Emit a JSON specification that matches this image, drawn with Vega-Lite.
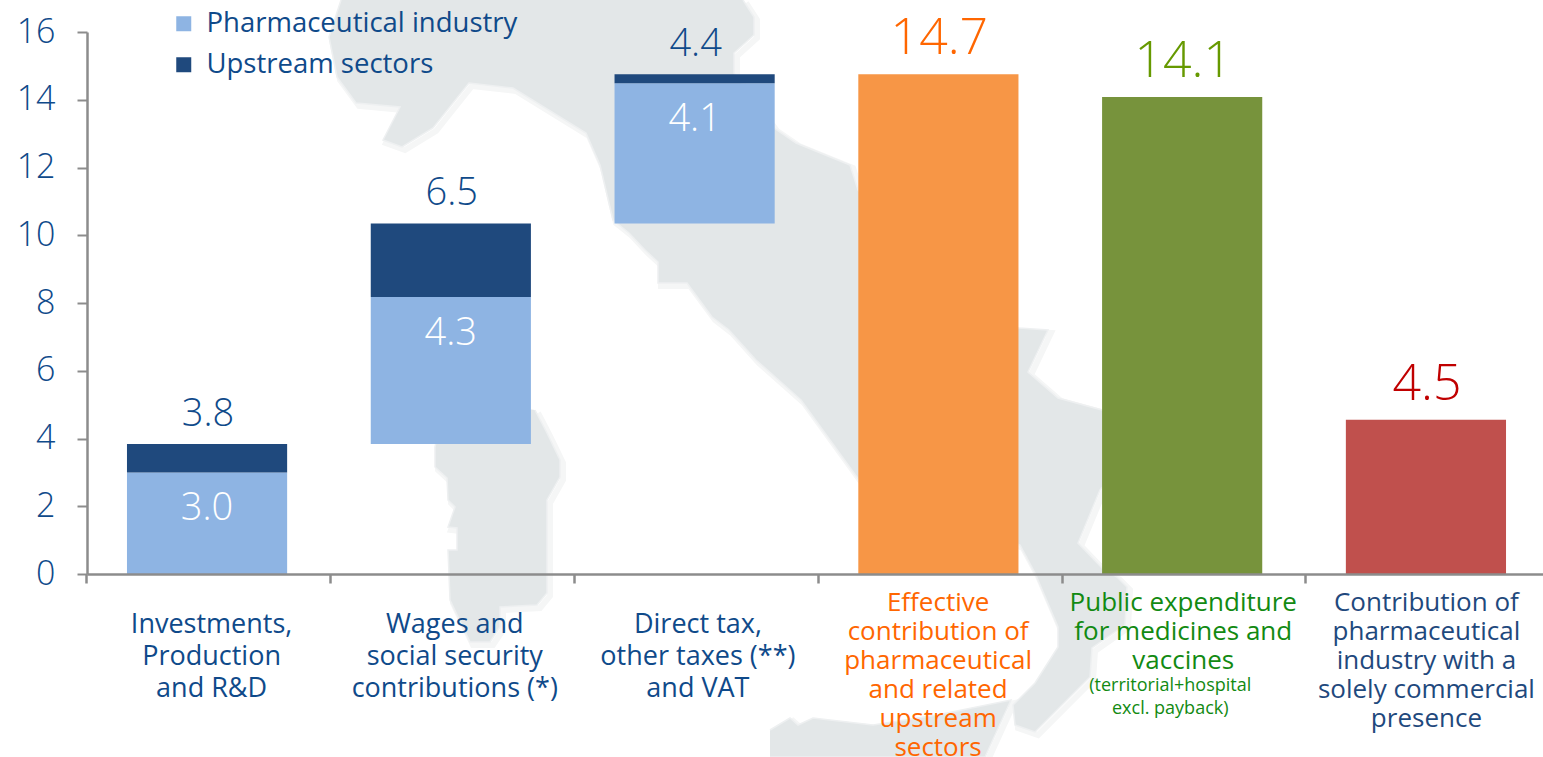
{
"$schema":"https://vega.github.io/schema/vega-lite/v6.json",
"width":1456,"height":542,"autosize":"none",
"padding":{"left":87,"top":32,"right":0,"bottom":183},
"background":"white",
"config":{"view":{"stroke":null},"text":{"font":"Open Sans","fontWeight":400},"axis":{"labelFont":"Open Sans","labelFontWeight":300},"legend":{"labelFont":"Open Sans","labelFontWeight":400}},
"datasets":{
"bars":[
{"category":"Investments, Production and R&D","series":"Pharmaceutical industry","low":0,"high":3.0,"inner":"3.0"},
{"category":"Investments, Production and R&D","series":"Upstream sectors","low":3.0,"high":3.84,"total":"3.8"},
{"category":"Wages and social security contributions (*)","series":"Pharmaceutical industry","low":3.84,"high":8.18,"inner":"4.3"},
{"category":"Wages and social security contributions (*)","series":"Upstream sectors","low":8.18,"high":10.35,"total":"6.5"},
{"category":"Direct tax, other taxes (**) and VAT","series":"Pharmaceutical industry","low":10.35,"high":14.49,"inner":"4.1"},
{"category":"Direct tax, other taxes (**) and VAT","series":"Upstream sectors","low":14.49,"high":14.75,"total":"4.4"},
{"category":"Effective contribution","series":"Effective contribution","low":0,"high":14.75,"bigtotal":"14.7"},
{"category":"Public expenditure","series":"Public expenditure","low":0,"high":14.08,"bigtotal":"14.1"},
{"category":"Commercial presence","series":"Commercial presence","low":0,"high":4.55,"bigtotal":"4.5"}
],
"labels":[
{"category":"Investments, Production and R&D","group":"a","label":"Investments,\nProduction\nand R&D"},
{"category":"Wages and social security contributions (*)","group":"a","label":"Wages and\nsocial security\ncontributions (*)"},
{"category":"Direct tax, other taxes (**) and VAT","group":"a","label":"Direct tax,\nother taxes (**)\nand VAT"},
{"category":"Effective contribution","group":"b","label":"Effective\ncontribution of\npharmaceutical\nand related\nupstream\nsectors"},
{"category":"Public expenditure","group":"c","label":"Public expenditure\nfor medicines and\nvaccines"},
{"category":"Public expenditure","group":"d","label":"(territorial+hospital\nexcl. payback)"},
{"category":"Commercial presence","group":"e","label":"Contribution of\npharmaceutical\nindustry with a\nsolely commercial\npresence"}
],
"map":[
{"part":"mainland","seq":1,"east":341,"north":757},{"part":"mainland","seq":2,"east":329,"north":720},{"part":"mainland","seq":3,"east":337,"north":680},{"part":"mainland","seq":4,"east":356,"north":654},{"part":"mainland","seq":5,"east":400,"north":650},{"part":"mainland","seq":6,"east":383,"north":617},{"part":"mainland","seq":7,"east":402,"north":610},{"part":"mainland","seq":8,"east":433,"north":629},{"part":"mainland","seq":9,"east":469,"north":674},{"part":"mainland","seq":10,"east":513,"north":669},{"part":"mainland","seq":11,"east":586,"north":624},{"part":"mainland","seq":12,"east":600,"north":592},{"part":"mainland","seq":13,"east":613,"north":537},{"part":"mainland","seq":14,"east":629,"north":524},{"part":"mainland","seq":15,"east":645,"north":507},{"part":"mainland","seq":16,"east":658,"north":495},{"part":"mainland","seq":17,"east":658,"north":474},{"part":"mainland","seq":18,"east":687,"north":474},{"part":"mainland","seq":19,"east":712,"north":440},{"part":"mainland","seq":20,"east":729,"north":427},{"part":"mainland","seq":21,"east":756,"north":397},{"part":"mainland","seq":22,"east":801,"north":357},{"part":"mainland","seq":23,"east":859,"north":277},{"part":"mainland","seq":24,"east":1020,"north":212},{"part":"mainland","seq":25,"east":1035,"north":184},{"part":"mainland","seq":26,"east":1058,"north":130},{"part":"mainland","seq":27,"east":1058,"north":110},{"part":"mainland","seq":28,"east":1035,"north":74},{"part":"mainland","seq":29,"east":1013,"north":52},{"part":"mainland","seq":30,"east":1015,"north":32},{"part":"mainland","seq":31,"east":1035,"north":25},{"part":"mainland","seq":32,"east":1090,"north":80},{"part":"mainland","seq":33,"east":1092,"north":109},{"part":"mainland","seq":34,"east":1125,"north":132},{"part":"mainland","seq":35,"east":1127,"north":170},{"part":"mainland","seq":36,"east":1117,"north":180},{"part":"mainland","seq":37,"east":1102,"north":189},{"part":"mainland","seq":38,"east":1078,"north":214},{"part":"mainland","seq":39,"east":1100,"north":267},{"part":"mainland","seq":40,"east":1130,"north":300},{"part":"mainland","seq":41,"east":1130,"north":340},{"part":"mainland","seq":42,"east":1102,"north":347},{"part":"mainland","seq":43,"east":1058,"north":359},{"part":"mainland","seq":44,"east":1028,"north":385},{"part":"mainland","seq":45,"east":1048,"north":427},{"part":"mainland","seq":46,"east":1019,"north":429},{"part":"mainland","seq":47,"east":950,"north":437},{"part":"mainland","seq":48,"east":858,"north":567},{"part":"mainland","seq":49,"east":850,"north":592},{"part":"mainland","seq":50,"east":796,"north":614},{"part":"mainland","seq":51,"east":774,"north":629},{"part":"mainland","seq":52,"east":734,"north":684},{"part":"mainland","seq":53,"east":734,"north":704},{"part":"mainland","seq":54,"east":754,"north":722},{"part":"mainland","seq":55,"east":754,"north":740},{"part":"mainland","seq":56,"east":743,"north":757},
{"part":"sardinia","seq":1,"east":535,"north":347},{"part":"sardinia","seq":2,"east":547,"north":324},{"part":"sardinia","seq":3,"east":560,"north":297},{"part":"sardinia","seq":4,"east":560,"north":280},{"part":"sardinia","seq":5,"east":547,"north":257},{"part":"sardinia","seq":6,"east":547,"north":164},{"part":"sardinia","seq":7,"east":537,"north":152},{"part":"sardinia","seq":8,"east":500,"north":150},{"part":"sardinia","seq":9,"east":500,"north":130},{"part":"sardinia","seq":10,"east":490,"north":115},{"part":"sardinia","seq":11,"east":470,"north":115},{"part":"sardinia","seq":12,"east":450,"north":157},{"part":"sardinia","seq":13,"east":448,"north":207},{"part":"sardinia","seq":14,"east":457,"north":207},{"part":"sardinia","seq":15,"east":457,"north":229},{"part":"sardinia","seq":16,"east":448,"north":230},{"part":"sardinia","seq":17,"east":455,"north":250},{"part":"sardinia","seq":18,"east":448,"north":257},{"part":"sardinia","seq":19,"east":447,"north":279},{"part":"sardinia","seq":20,"east":435,"north":290},{"part":"sardinia","seq":21,"east":435,"north":310},{"part":"sardinia","seq":22,"east":440,"north":337},{"part":"sardinia","seq":23,"east":500,"north":352},
{"part":"sicily","seq":1,"east":770,"north":27},{"part":"sicily","seq":2,"east":790,"north":39},{"part":"sicily","seq":3,"east":798,"north":32},{"part":"sicily","seq":4,"east":813,"north":39},{"part":"sicily","seq":5,"east":873,"north":32},{"part":"sicily","seq":6,"east":937,"north":42},{"part":"sicily","seq":7,"east":1011,"north":57},{"part":"sicily","seq":8,"east":985,"north":0},{"part":"sicily","seq":9,"east":770,"north":0}
]
},
"layer":[
{"data":{"name":"map"},
 "encoding":{
  "x":{"field":"east","type":"quantitative","scale":{"domain":[87,1543],"zero":false,"nice":false},"axis":null},
  "y":{"field":"north","type":"quantitative","scale":{"domain":[183,725],"zero":false,"nice":false},"axis":null},
  "detail":{"field":"part"},
  "order":{"field":"seq"}},
 "layer":[
  {"mark":{"type":"line","stroke":"#f5f6f6","strokeWidth":6,"xOffset":3,"yOffset":3,"clip":false}},
  {"mark":{"type":"line","fill":"#e3e7e8","stroke":"#eef0f1","strokeWidth":1.5,"clip":false}}
 ]},
{"data":{"name":"bars"},
 "encoding":{
  "x":{"field":"category","type":"nominal","sort":null,
    "scale":{"domain":["Investments, Production and R&D","Wages and social security contributions (*)","Direct tax, other taxes (**) and VAT","Effective contribution","Public expenditure","Commercial presence"],"range":[0,1459],"paddingInner":0.343,"paddingOuter":0.164},
    "axis":{"title":null,"labels":false,"grid":false,"bandPosition":-0.25,"domainColor":"#8c8c8c","domainWidth":2.5,"tickColor":"#8c8c8c","tickWidth":2.5,"tickSize":9,"zindex":1}}
 },
 "layer":[
 {"mark":{"type":"bar"},
  "encoding":{
   "y":{"field":"low","type":"quantitative","scale":{"domain":[0,16],"nice":false},
     "axis":{"title":null,"values":[0,2,4,6,8,10,12,14,16],"grid":false,"domainColor":"#8c8c8c","domainWidth":2.5,"tickColor":"#8c8c8c","tickWidth":2,"tickSize":10,"labelColor":"#0f4a8a","labelFontSize":34,"labelPadding":22,"zindex":1}},
   "y2":{"field":"high"},
   "color":{"field":"series","type":"nominal",
     "scale":{"domain":["Pharmaceutical industry","Upstream sectors","Effective contribution","Public expenditure","Commercial presence"],"range":["#8eb4e3","#1f497d","#f79646","#77933c","#c0504d"]},
     "legend":{"title":null,"orient":"none","legendX":83,"legendY":-22,"values":["Pharmaceutical industry","Upstream sectors"],"symbolType":"square","symbolSize":225,"symbolOpacity":1,"labelFontSize":27.5,"labelColor":"#0f4a8a","labelLimit":400,"labelOffset":9,"rowPadding":12,"padding":0}}}},
 {"transform":[{"filter":"isValid(datum.total)"}],
  "mark":{"type":"text","fontSize":38,"fontWeight":300,"baseline":"middle","dy":-29,"dx":1,"color":"#0f4a8a"},
  "encoding":{"y":{"field":"high","type":"quantitative"},"text":{"field":"total"}}},
 {"transform":[{"filter":"isValid(datum.bigtotal)"}],
  "mark":{"type":"text","fontSize":50,"fontWeight":300,"baseline":"middle","dy":-35,"dx":1},
  "encoding":{"y":{"field":"high","type":"quantitative"},"text":{"field":"bigtotal"},
   "color":{"condition":[{"test":"datum.category==='Effective contribution'","value":"#ff6600"},{"test":"datum.category==='Public expenditure'","value":"#669900"}],"value":"#c00000"}}},
 {"transform":[{"filter":"isValid(datum.inner)"}],
  "mark":{"type":"text","fontSize":38,"fontWeight":300,"baseline":"middle","dy":37,"color":"white"},
  "encoding":{"y":{"field":"high","type":"quantitative"},"text":{"field":"inner"}}}
 ]},
{"data":{"name":"labels"},
 "encoding":{
  "x":{"field":"category","type":"nominal","sort":null,
    "scale":{"domain":["Investments, Production and R&D","Wages and social security contributions (*)","Direct tax, other taxes (**) and VAT","Effective contribution","Public expenditure","Commercial presence"],"range":[0,1459],"paddingInner":0.343,"paddingOuter":0.164},"axis":null},
  "y":{"datum":0,"type":"quantitative","scale":{"domain":[0,16],"nice":false},"axis":null},
  "text":{"field":"label"}},
 "layer":[
 {"transform":[{"filter":"datum.group==='a'"}],"mark":{"type":"text","fontSize":27,"baseline":"top","lineBreak":"\n","lineHeight":32,"dy":38,"dx":3,"color":"#0f4a8a"}},
 {"transform":[{"filter":"datum.group==='b'"}],"mark":{"type":"text","fontSize":26,"baseline":"top","lineBreak":"\n","lineHeight":29,"dy":16,"color":"#ff6600"}},
 {"transform":[{"filter":"datum.group==='c'"}],"mark":{"type":"text","fontSize":26,"baseline":"top","lineBreak":"\n","lineHeight":29,"dy":16,"dx":2,"color":"#128a12"}},
 {"transform":[{"filter":"datum.group==='d'"}],"mark":{"type":"text","fontSize":18,"baseline":"top","lineBreak":"\n","lineHeight":23,"dy":103,"dx":-11,"color":"#128a12"}},
 {"transform":[{"filter":"datum.group==='e'"}],"mark":{"type":"text","fontSize":26,"baseline":"top","lineBreak":"\n","lineHeight":29,"dy":16,"dx":2,"color":"#1f497d"}}
 ]}
],
"resolve":{"scale":{"x":"independent","y":"independent"},"axis":{"x":"independent","y":"independent"}}
}
